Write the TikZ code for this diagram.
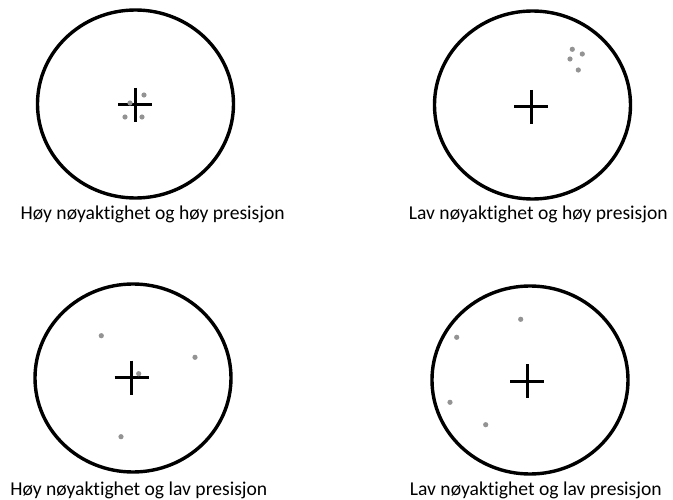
\documentclass[tikz,border=0pt]{standalone}
\usepackage{fontspec}
\setmainfont[Ligatures={NoCommon}]{Carlito}
\begin{document}
\begin{tikzpicture}[x=1pt,y=-1pt,line join=round,
  target/.style={line width=3.4pt,black},
  crossline/.style={line width=3pt,black},
  hit/.style={fill=gray!85},
  caption/.style={anchor=base,inner sep=0pt,font=\fontsize{19.6}{22}\selectfont}]
\useasboundingbox (0,0) rectangle (673,500);
\def\rx{98}  \def\ry{94}  \def\arm{17}
% skiver
\foreach \cx/\cy in {135.5/104, 532.5/105, 133/378, 530/380}{
\draw[target] (\cx,\cy) ellipse [x radius=\rx, y radius=\ry];
}
% kryss i midten
\foreach \kx/\ky in {135/105, 531/107, 131.7/377.7, 527.3/381}{
\draw[crossline] (\kx-\arm,\ky)--(\kx+\arm,\ky);
\draw[crossline] (\kx,\ky-\arm)--(\kx,\ky+\arm);
}
% treff
\foreach \p in {(144,95),(130,103),(125,117),(142,117),
  (572.3,49.3),(582.3,54),(570,59),(578.3,70),
  (101.3,335.7),(195,357.3),(138.7,373.7),(121,436.7),
  (520.7,319.3),(456.7,337.3),(450,402.3),(485.7,424.7)}{
\fill[hit] \p circle (2.6);
}
\node[caption] (hh) at (152.7,220) {Høy nøyaktighet og høy presisjon};
\node[caption] (lh) at (538.3,220) {Lav nøyaktighet og høy presisjon};
\node[caption] (hl) at (138.8,495) {Høy nøyaktighet og lav presisjon};
\node[caption] (ll) at (535.8,495) {Lav nøyaktighet og lav presisjon};
\end{tikzpicture}
\end{document}
